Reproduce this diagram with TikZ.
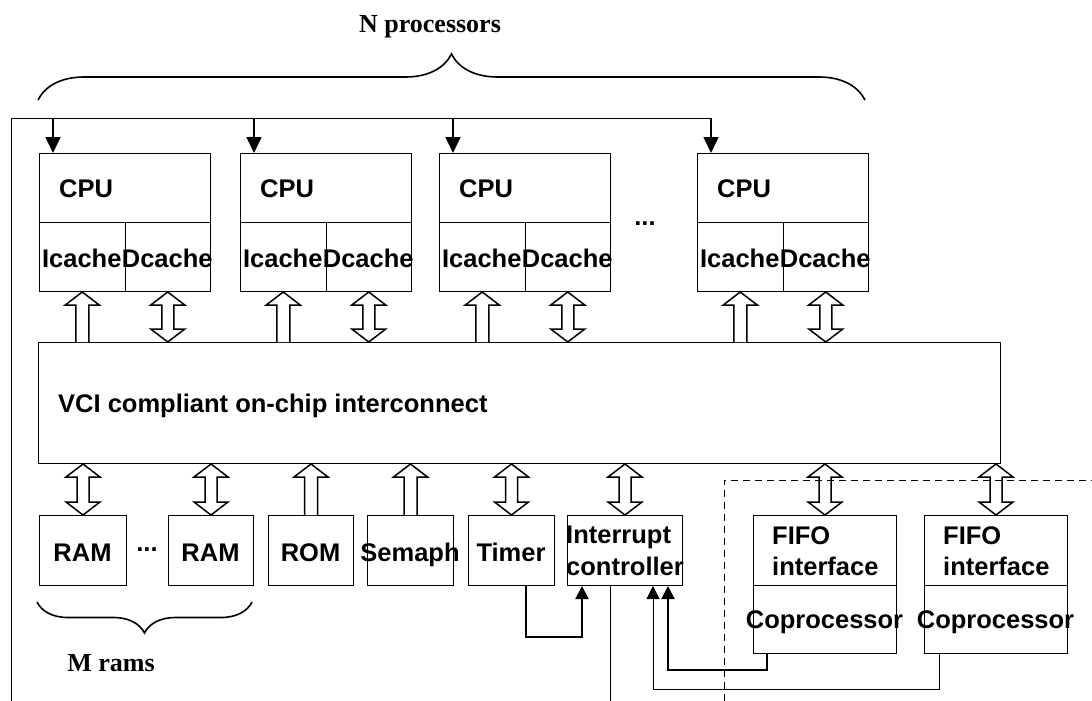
\documentclass[tikz,border=0pt]{standalone}
\usepackage{fontspec}
\setmainfont{Liberation Serif}
\newfontfamily\arialf{Liberation Sans}
\usetikzlibrary{arrows.meta,decorations.pathreplacing,calc}
% hollow arrow pointing up: #1 tail (below), #2 tip (above)
\newcommand\hollowup[2]{\draw[hol] let \p1=(#1), \p2=(#2) in
  (\x1-6.5pt,\y1) -- (\x1-6.5pt,\y2-13pt) -- (\x1-17pt,\y2-13pt) -- (\x1,\y2)
  -- (\x1+17pt,\y2-13pt) -- (\x1+6.5pt,\y2-13pt) -- (\x1+6.5pt,\y1);}
% hollow double arrow: #1 upper tip, #2 lower tip
\newcommand\hollowboth[2]{\draw[hol] let \p1=(#1), \p2=(#2) in
  (\x1,\y1) -- (\x1+17pt,\y1-13pt) -- (\x1+6pt,\y1-13pt) -- (\x1+6pt,\y2+13pt)
  -- (\x1+17pt,\y2+13pt) -- (\x1,\y2) -- (\x1-17pt,\y2+13pt) -- (\x1-6pt,\y2+13pt)
  -- (\x1-6pt,\y1-13pt) -- (\x1-17pt,\y1-13pt) -- cycle;}
\begin{document}
\begin{tikzpicture}[x=1pt,y=-1pt,
  box/.style={draw,line width=1pt,rectangle,inner sep=0pt,anchor=north west},
  lbl/.style={font=\arialf\bfseries\fontsize{25.5}{31.5}\selectfont,inner sep=0pt},
  serl/.style={font=\bfseries\fontsize{26}{30}\selectfont,inner sep=0pt},
  hol/.style={draw,fill=white,line width=1.5pt,line join=miter},
  feed/.style={line width=1.6pt,-{Triangle[length=16pt,width=15pt]}},
  wire/.style={line width=1pt},
  thickwire/.style={line width=2pt},
  inarrow/.style={-{Triangle[length=13pt,width=13pt]}},
  bracedeco/.style={line width=1.6pt,decorate},
  dashline/.style={line width=1pt,dash pattern=on 7pt off 5pt}]
\useasboundingbox (0,0) rectangle (1092,701);

% CPUs
\foreach \i/\x in {1/39,2/240,3/439,4/697}{
  \node[box,minimum width=171pt,minimum height=69pt] (cpu\i) at (\x,153) {};
  \node[box,minimum width=85.5pt,minimum height=69pt] (ic\i) at (\x,222) {};
  \node[box,minimum width=85.5pt,minimum height=69pt] (dc\i) at (\x+85.5,222) {};
  \node[lbl,anchor=base west] (cpu\i t) at (\x+20,197) {CPU};
  \node[lbl,anchor=base] (ic\i t) at (\x+42.75,267) {Icache};
  \node[lbl,anchor=base] (dc\i t) at (\x+128.25,267) {Dcache};
  \coordinate (a\i) at ([xshift=14pt]cpu\i.north west);
}
\node[lbl] (dots1) at (645,224) {...};

% bus
\node[box,minimum width=962pt,minimum height=121pt] (bus) at (38,342) {};
\node[lbl,anchor=base west] (bust) at (58,412) {VCI compliant on-chip interconnect};

% bottom row
\node[box,minimum width=87pt,minimum height=70pt] (ram1) at (39,515) {};
\node[box,minimum width=85pt,minimum height=70pt] (ram2) at (168,515) {};
\node[box,minimum width=85pt,minimum height=70pt] (rom) at (268,515) {};
\node[box,minimum width=86pt,minimum height=70pt] (sem) at (367,515) {};
\node[box,minimum width=86pt,minimum height=70pt] (timer) at (468,515) {};
\node[box,minimum width=115pt,minimum height=70pt] (intc) at (567,515) {};
\node[box,minimum width=143pt,minimum height=70pt] (fifo1) at (753,515) {};
\node[box,minimum width=143pt,minimum height=68pt] (cop1) at (753,585) {};
\node[box,minimum width=143pt,minimum height=70pt] (fifo2) at (924,515) {};
\node[box,minimum width=143pt,minimum height=68pt] (cop2) at (924,585) {};

\node[lbl,anchor=base] (ram1t) at (82.5,561) {RAM};
\node[lbl,anchor=base] (ram2t) at (210.5,561) {RAM};
\node[lbl] (dots2) at (147,550) {...};
\node[lbl,anchor=base] (romt) at (310.5,561) {ROM};
\node[lbl,anchor=base] (semt) at (410,561) {Semaph};
\node[lbl,anchor=base] (timert) at (511,561) {Timer};
\node[lbl,anchor=base west] (intct1) at (566,543) {Interrupt};
\node[lbl,anchor=base west] (intct2) at (566,575) {controller};
\node[lbl,anchor=base west] (fifo1t1) at (772,544) {FIFO};
\node[lbl,anchor=base west] (fifo1t2) at (772,575) {interface};
\node[lbl,anchor=base west] (fifo2t1) at (943,544) {FIFO};
\node[lbl,anchor=base west] (fifo2t2) at (943,575) {interface};
\node[lbl,anchor=base] (cop1t) at (824.5,628) {Coprocessor};
\node[lbl,anchor=base] (cop2t) at (995.5,628) {Coprocessor};

% hollow arrows CPU <-> bus
\foreach \i in {1,...,4}{
  \hollowup{ic\i.south |- bus.north}{ic\i.south}
  \hollowboth{dc\i.south}{dc\i.south |- bus.north}
}
% hollow arrows bus <-> peripherals
\hollowboth{ram1.north |- bus.south}{ram1.north}
\hollowboth{ram2.north |- bus.south}{ram2.north}
\hollowup{rom.north}{rom.north |- bus.south}
\hollowup{sem.north}{sem.north |- bus.south}
\hollowboth{timer.north |- bus.south}{timer.north}
\hollowboth{intc.north |- bus.south}{intc.north}
\hollowboth{fifo1.north |- bus.south}{fifo1.north}
\hollowboth{fifo2.north |- bus.south}{fifo2.north}

% outer frame and feed arrows to CPUs
\coordinate (ftop) at (11,118);
\coordinate (fbot) at (11,701);
\draw[wire] (fbot) -- (ftop) -- (ftop -| a4);
\foreach \i in {1,...,4}{
  \draw[feed] (a\i |- ftop) -- (a\i);
}

% interrupt wiring
\coordinate (tout) at ([xshift=14pt]timer.south);
\coordinate (iin1) at ([xshift=15pt]intc.south west);
\coordinate (iin2) at ([xshift=86pt]intc.south west);
\coordinate (iin3) at ([xshift=101pt]intc.south west);
\coordinate (iout) at ([xshift=43pt]intc.south west);
\coordinate (c1out) at ([xshift=14pt]cop1.south west);
\coordinate (c2out) at ([xshift=15pt]cop2.south west);
\draw[thickwire,inarrow] (tout) -- ++(0,51) -| (iin1);
\draw[thickwire,inarrow] (c1out) -- ++(0,16) -| (iin3);
\draw[wire,inarrow] (c2out) -- ++(0,35) -| (iin2);
\draw[wire] (iout) -- (iout |- fbot);

% dashed coprocessor region
\coordinate (d1) at (724,701);
\coordinate (d2) at (724,480);
\coordinate (d3) at (1092,480);
\draw[dashline] (d1) -- (d2) -- (d3);

% braces
\coordinate (nb1) at (38,100);
\coordinate (nb2) at (865,100);
\draw[bracedeco,decoration={brace,amplitude=46pt}] (nb1) -- (nb2);
\node[serl] (np) at (430,27) {N processors};
\coordinate (mb1) at (37,602);
\coordinate (mb2) at (252,602);
\draw[bracedeco,decoration={brace,amplitude=31pt}] (mb2) -- (mb1);
\node[serl] (mr) at (111,663) {M rams};
\end{tikzpicture}
\end{document}
